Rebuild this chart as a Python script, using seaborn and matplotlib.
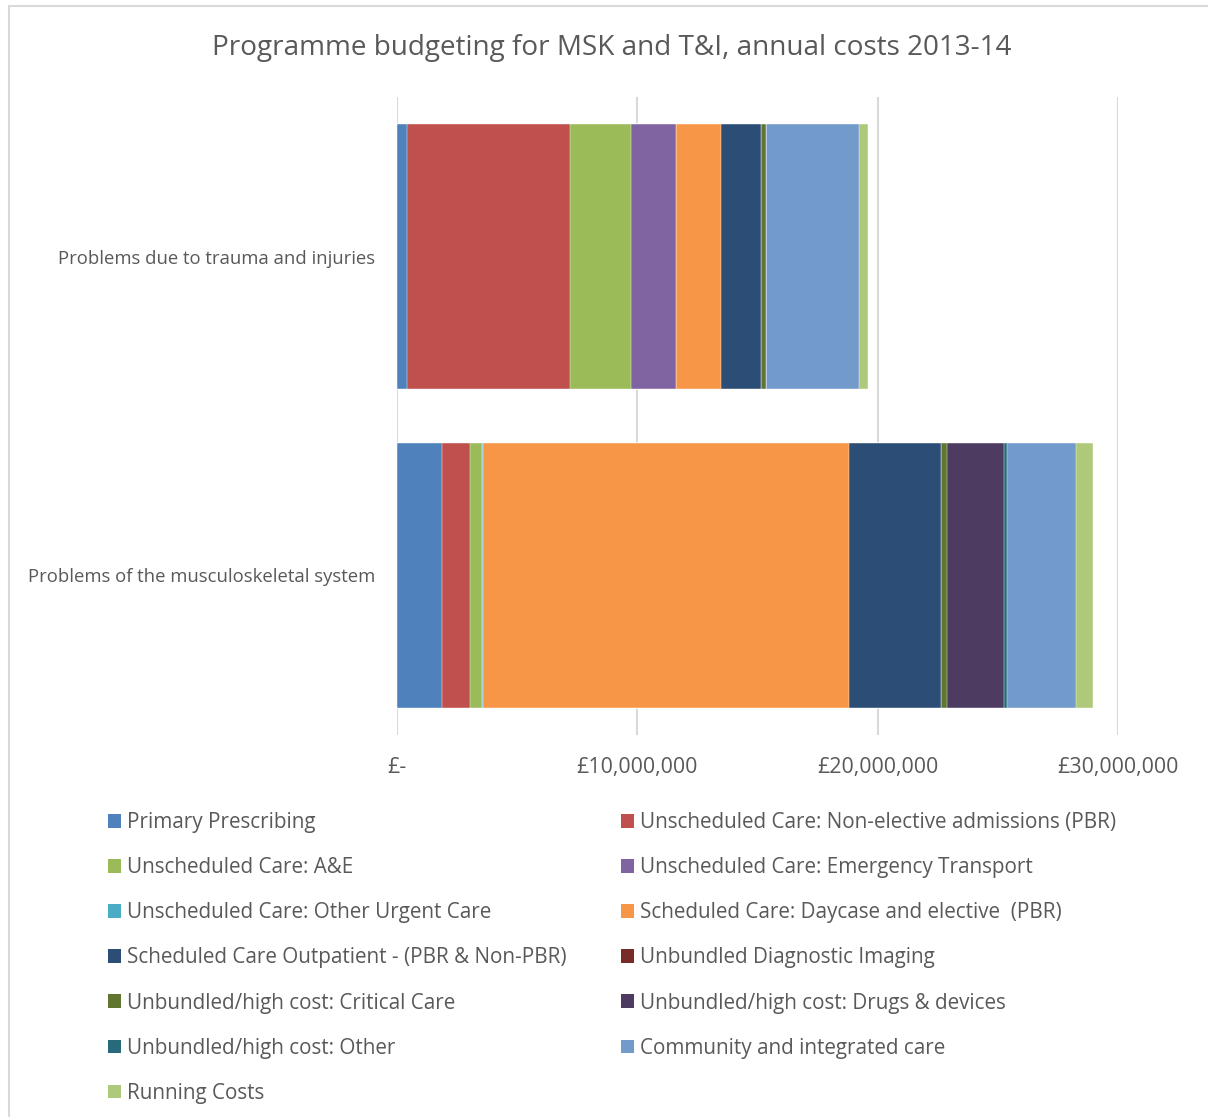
import numpy as np
import pandas as pd
import matplotlib
matplotlib.use("Agg")
import matplotlib.pyplot as plt
from matplotlib.patches import Patch, Rectangle
from matplotlib.ticker import FixedLocator
import seaborn as sns

sns.set_theme(style="white")
plt.rcParams["font.family"] = ["Open Sans", "DejaVu Sans"]

TEXT = "#595959"
GRID = "#D9D9D9"

categories = ["Problems due to trauma and injuries",
              "Problems of the musculoskeletal system"]

components = [
    "Primary Prescribing",
    "Unscheduled Care: Non-elective admissions (PBR)",
    "Unscheduled Care: A&E",
    "Unscheduled Care: Emergency Transport",
    "Unscheduled Care: Other Urgent Care",
    "Scheduled Care: Daycase and elective  (PBR)",
    "Scheduled Care Outpatient - (PBR & Non-PBR)",
    "Unbundled Diagnostic Imaging",
    "Unbundled/high cost: Critical Care",
    "Unbundled/high cost: Drugs & devices",
    "Unbundled/high cost: Other",
    "Community and integrated care",
    "Running Costs",
]

colors = ["#4F81BD", "#C0504D", "#9BBB59", "#8064A2", "#4BACC6", "#F79646",
          "#2C4D75", "#772C2A", "#5F7530", "#4D3B62", "#276A7C", "#729ACA",
          "#AFC97A"]

# annual cost (GBP) per component, in the order of `components`
trauma_costs = [430000, 6770000, 2540000, 1870000, 0, 1860000, 1680000,
                0, 190000, 0, 0, 3880000, 390000]
msk_costs = [1880000, 1160000, 490000, 0, 40000, 15220000, 3840000,
             20000, 240000, 2380000, 110000, 2870000, 710000]

xticks = [0, 10000000, 20000000, 30000000]
xtick_labels = ["£-", "£10,000,000", "£20,000,000", "£30,000,000"]

df = pd.DataFrame({"component": components * 2,
                   "category": [categories[0]] * len(components) + [categories[1]] * len(components),
                   "cost": trauma_costs + msk_costs})
df["cum"] = df.groupby("category")["cost"].cumsum()

W, H = 1208, 1117
fig = plt.figure(figsize=(W / 100, H / 100), dpi=100)
ax = fig.add_axes([397 / W, 1 - 735 / H, (1118 - 397) / W, (735 - 97) / H])

# stacked bars: draw cumulative totals from the outermost segment inwards
for comp, col in reversed(list(zip(components, colors))):
    sub = df[df["component"] == comp]
    sns.barplot(data=sub, x="cum", y="category", order=categories, color=col,
                orient="h", width=0.833, saturation=1, ax=ax,
                edgecolor="white", linewidth=0.3)

ax.set_xlim(0, 30000000)
ax.set_ylim(1.5, -0.5)
ax.xaxis.set_major_locator(FixedLocator(xticks))
ax.set_xticklabels(xtick_labels)
ax.grid(axis="x", color=GRID, linewidth=1.5)
ax.grid(axis="y", visible=False)
ax.set_axisbelow(True)
for s in ax.spines.values():
    s.set_visible(False)
ax.set_xlabel("")
ax.set_ylabel("")
ax.tick_params(axis="x", length=0, pad=15.5, labelsize=15.4, labelcolor=TEXT)
ax.tick_params(axis="y", length=0, pad=16, labelsize=13.3, labelcolor=TEXT)

fig.text(611.5 / W, 1 - 48.5 / H, "Programme budgeting for MSK and T&I, annual costs 2013-14",
         ha="center", va="center", fontsize=20.1, color=TEXT)

handles = [Patch(facecolor=c, edgecolor="none") for c in colors]
order = list(range(0, 13, 2)) + list(range(1, 13, 2))
leg = fig.legend([handles[i] for i in order], [components[i] for i in order],
                 ncol=2, loc="upper left", bbox_to_anchor=(100 / W, 1 - 804 / H),
                 frameon=False, fontsize=14.9, labelcolor=TEXT,
                 handlelength=0.63, handleheight=0.63, handletextpad=0.29,
                 labelspacing=1.163, columnspacing=2.6, borderaxespad=0)

# chart area border
fig.patches.append(Rectangle((9 / W, -0.01), 1.05, 1 - 6 / H + 0.01,
                             transform=fig.transFigure, facecolor="none",
                             edgecolor=GRID, linewidth=1.5))

fig.savefig("out.png", dpi=100)
